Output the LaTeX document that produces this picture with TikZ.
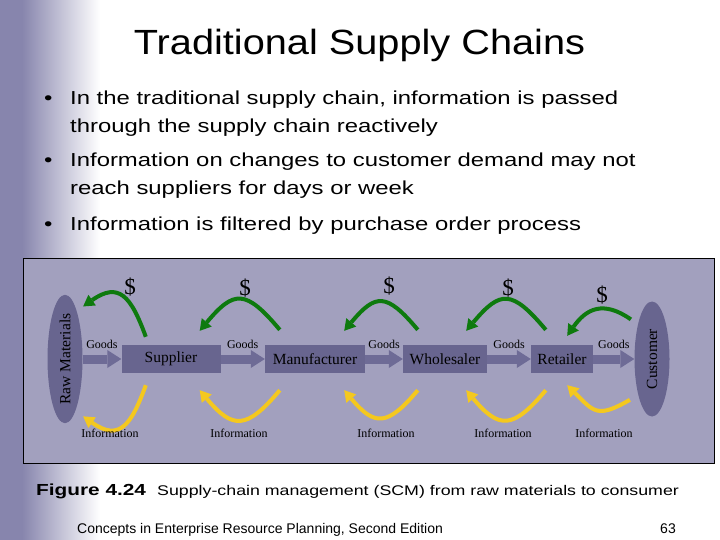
\documentclass[tikz,border=0pt]{standalone}
\usepackage{fontspec}
\usepackage{graphicx}
\setmainfont{Liberation Serif}
\newfontfamily\slidefont[FakeStretch=1.27]{Liberation Sans}
\newfontfamily\figfont[FakeStretch=1.3]{Liberation Sans Bold}
\newfontfamily\titlefont[FakeStretch=1.135]{Liberation Sans}
\newfontfamily\footfont{Liberation Sans}
\usetikzlibrary{shapes.geometric, arrows.meta}
\definecolor{bandblue}{RGB}{135,133,173}
\definecolor{panelgray}{RGB}{162,160,190}
\definecolor{stagegray}{RGB}{104,101,143}
\definecolor{shaftgray}{RGB}{110,107,150}
\definecolor{moneygreen}{RGB}{14,122,14}
\definecolor{infoyellow}{RGB}{244,200,30}

\begin{document}
\begin{tikzpicture}[x=1pt, y=1pt,
  stage/.style={fill=stagegray, minimum width=#1, minimum height=28pt, inner sep=0pt, font=\fontsize{15.5}{16}\selectfont},
  endpoint/.style={ellipse, fill=stagegray, minimum width=35pt, minimum height=115pt, inner sep=0pt, font=\fontsize{15.5}{16}\selectfont},
  goods/.style={shaftgray, line width=9pt, -{Triangle[length=14pt, width=18pt, line width=0pt]}},
  money/.style={moneygreen, line width=4pt, -{Triangle[length=11pt, width=13pt, line width=0pt]}},
  info/.style={infoyellow, line width=4pt, -{Triangle[length=11pt, width=13pt, line width=0pt]}},
  tag/.style={black, font=\fontsize{12}{13}\selectfont, inner sep=1pt},
  dollar/.style={black, font=\fontsize{23}{25}\selectfont, inner sep=0pt},
  bullet/.style={anchor=base west, inner sep=0pt, font=\slidefont\fontsize{18.8}{22}\selectfont}]
  \useasboundingbox (0,0) rectangle (720,-540);
  \fill[white] (0,0) rectangle (720,-540);
  \fill[bandblue] (0,0) rectangle (22,-540);
  \shade[left color=bandblue, right color=white] (22,0) rectangle (100,-540);

  \node[anchor=base, font=\titlefont\fontsize{35}{40}\selectfont] (title) at (359.5,-55) {Traditional Supply Chains};
  \node[bullet] (dot1) at (44,-105) {•};
  \node[bullet] (line1) at (70,-105) {In the traditional supply chain, information is passed};
  \node[bullet] (line2) at (70,-133) {through the supply chain reactively};
  \node[bullet] (dot2) at (44,-167) {•};
  \node[bullet] (line3) at (70,-167) {Information on changes to customer demand may not};
  \node[bullet] (line4) at (70,-195) {reach suppliers for days or week};
  \node[bullet] (dot3) at (44,-230) {•};
  \node[bullet] (line5) at (70,-230) {Information is filtered by purchase order process};

  \draw[fill=panelgray, line width=1pt] (23.3,-258.3) rectangle (714,-463);
  \node[endpoint] (raw) at (65,-359) {\rotatebox{90}{Raw Materials}};
  \node[stage=99pt] (sup) at (171,-359) {Supplier};
  \node[stage=100pt] (man) at (315,-359) {Manufacturer};
  \node[stage=84pt] (whl) at (445,-359) {Wholesaler};
  \node[stage=62pt] (ret) at (562,-359) {Retailer};
  \node[endpoint] (cus) at (652,-359) {\rotatebox{90}{Customer}};

  \foreach \a/\b in {raw/sup, sup/man, man/whl, whl/ret, ret/cus}
    \draw[goods] (\a) -- (\b) node[tag, midway, above=5pt] (goods-\a) {Goods};

  \foreach \a/\b in {man/sup, whl/man, ret/whl} {
    \draw[money] ([shift={(15pt,15pt)}]\a.north west) to[out=130, in=50, looseness=1.7] ([shift={(-21pt,14pt)}]\b.north east);
    \draw[info] ([shift={(15pt,-17pt)}]\a.south west) to[out=-130, in=-50, looseness=1.65] ([shift={(-21pt,-17pt)}]\b.south east);
  }
  \draw[money] ([shift={(24.5pt,8pt)}]sup.north west) to[out=110, in=35, looseness=1.6] ([shift={(5.6pt,7pt)}]raw.north east);
  \draw[money] ([shift={(-8.6pt,-1.2pt)}]cus.north west) to[out=145, in=55, looseness=1.3] ([shift={(-26pt,9pt)}]ret.north east);
  \draw[info] ([shift={(24.5pt,-12pt)}]sup.south west) to[out=-110, in=-35, looseness=1.6] ([shift={(5.6pt,-11.8pt)}]raw.south east);
  \draw[info] ([shift={(-9.6pt,0pt)}]cus.south west) to[out=-150, in=-45, looseness=1.5] ([shift={(-26pt,-12pt)}]ret.south east);

  \foreach \n/\x/\y in {sup/130/287, man/245/288, whl/389/286, ret/508/288, cus/602/295}
    \node[dollar] (pay-\n) at (\x,-\y) {\$};
  \foreach \n/\x in {sup/110, man/239, whl/386, ret/503, cus/604}
    \node[tag] (inf-\n) at (\x,-433) {Information};

  \node[anchor=base west, inner sep=0pt, font=\figfont\fontsize{16}{18}\selectfont] (fignum) at (36,-495) {Figure 4.24};
  \node[anchor=base west, inner sep=0pt, font=\slidefont\fontsize{14}{16}\selectfont] (figtext) at (157,-495) {Supply-chain management (SCM) from raw materials to consumer};
  \node[anchor=base west, inner sep=0pt, font=\footfont\fontsize{14}{16}\selectfont] (book) at (77,-533) {Concepts in Enterprise Resource Planning, Second Edition};
  \node[anchor=base east, inner sep=0pt, font=\footfont\fontsize{14}{16}\selectfont] (page) at (676,-533) {63};
\end{tikzpicture}
\end{document}
